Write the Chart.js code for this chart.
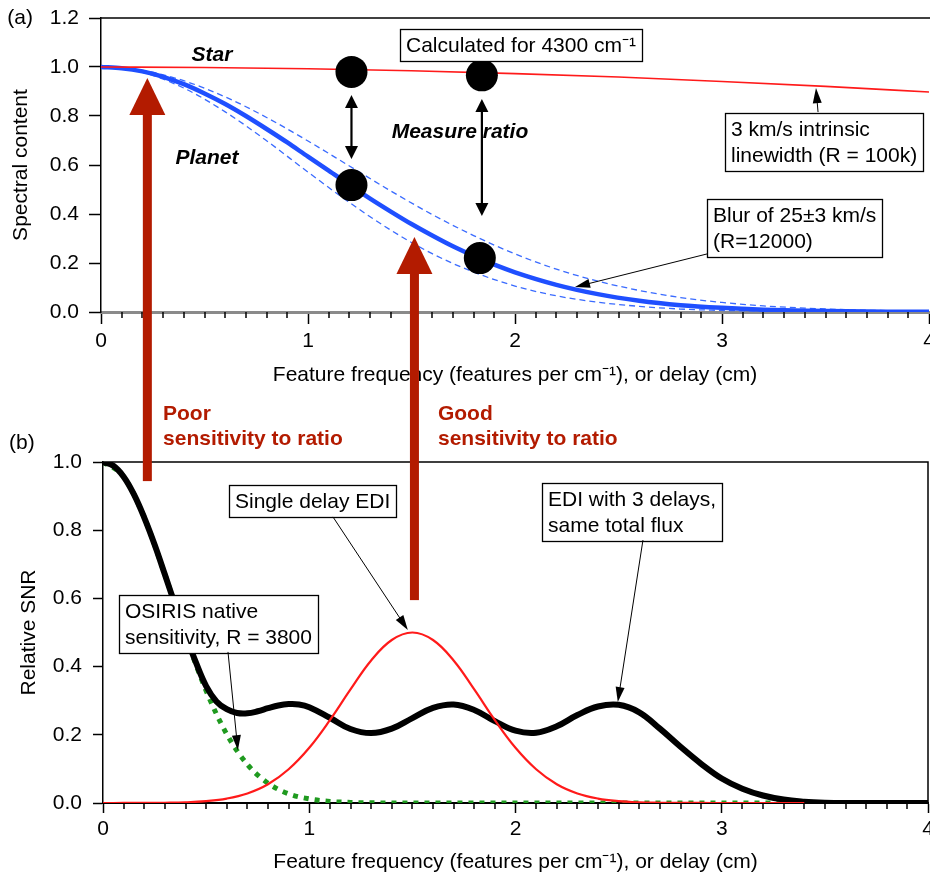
<!DOCTYPE html>
<html><head><meta charset="utf-8">
<script src="https://cdn.jsdelivr.net/npm/chart.js@4/dist/chart.umd.min.js"></script>
<style>
html,body{margin:0;padding:0;background:#fff;overflow:hidden;width:930px;height:880px;}
canvas{position:absolute;left:0;top:0;}
</style></head><body>
<canvas id="cTop" width="960" height="880"></canvas>
<canvas id="cBot" width="960" height="880"></canvas>
<script>
// ---------- Panel (a) data ----------
const starX = [0, 0.5, 1, 1.5, 2, 2.5, 3, 3.5, 4];
const starY = [1, 0.998, 0.993, 0.985, 0.973, 0.959, 0.941, 0.921, 0.898];

const planetX = [0,0.1,0.2,0.3,0.4,0.5,0.6,0.7,0.8,0.9,1.0,1.1,1.2,1.3,1.4,1.5,1.6,1.7,1.8,1.9,2.0,2.2,2.4,2.6,2.8,3.0,3.2,3.4,3.6,3.8,4.0];
const planetY = [1,0.995,0.982,0.960,0.930,0.892,0.849,0.800,0.747,0.692,0.634,0.577,0.519,0.463,0.410,0.359,0.312,0.268,0.229,0.193,0.162,0.111,0.073,0.046,0.028,0.017,0.0095,0.005,0.0027,0.0014,0.0007];

const blurX   = [0,0.2,0.4,0.6,0.8,1.0,1.2,1.4,1.6,1.8,2.0,2.2,2.4,2.6,2.8,3.0,3.2,3.4,3.6,3.8,4.0];
const blurHiY = [1,0.986,0.944,0.878,0.794,0.698,0.596,0.494,0.398,0.312,0.237,0.175,0.126,0.088,0.059,0.039,0.025,0.016,0.0094,0.0055,0.0032];
const blurLoY = [1,0.978,0.914,0.817,0.699,0.571,0.447,0.334,0.238,0.163,0.106,0.066,0.040,0.023,0.012,0.0065,0.0033,0.0016,0.0007,0.0003,0.0001];

const ratioX = [1.21, 1.21, 1.84, 1.83];
const ratioY = [0.98, 0.518, 0.966, 0.22];

// ---------- Panel (b) data ----------
const edi3X = [0,0.05,0.1,0.15,0.2,0.25,0.3,0.35,0.4,0.45,0.5,0.55,0.6,0.65,0.7,0.75,0.8,0.85,0.9,0.95,1.0,1.1,1.2,1.3,1.4,1.5,1.6,1.7,1.8,1.9,2.0,2.1,2.2,2.3,2.4,2.5,2.6,2.7,2.8,2.9,3.0,3.1,3.2,3.3,3.4,3.5,3.6,3.8,4.0];
const edi3Y = [1.0,0.989,0.957,0.905,0.837,0.758,0.670,0.580,0.492,0.413,0.343,0.298,0.275,0.264,0.263,0.269,0.278,0.286,0.290,0.289,0.281,0.250,0.217,0.205,0.218,0.249,0.279,0.289,0.273,0.240,0.212,0.206,0.225,0.258,0.283,0.288,0.266,0.218,0.165,0.115,0.072,0.042,0.022,0.010,0.004,0.001,0,0,0];

const ediX = [0,0.1,0.2,0.3,0.4,0.5,0.6,0.7,0.8,0.9,1.0,1.1,1.2,1.3,1.4,1.5,1.6,1.7,1.8,1.9,2.0,2.1,2.2,2.3,2.4,2.5,2.6,2.7,2.8,2.9,3.0,3.2,3.4];
const ediY = [0,0.0001,0.0004,0.0008,0.002,0.0055,0.013,0.028,0.055,0.099,0.162,0.243,0.333,0.418,0.478,0.5,0.478,0.418,0.333,0.243,0.162,0.099,0.055,0.028,0.013,0.0055,0.002,0.0008,0.0004,0.0001,0,0,0];

const osirisX = [0,0.1,0.2,0.3,0.4,0.5,0.6,0.7,0.8,0.9,1.0,1.1,1.2,1.3,1.4,1.6,2.0,2.5,3.0,3.4];
const osirisY = [1,0.957,0.837,0.670,0.491,0.329,0.202,0.113,0.058,0.027,0.012,0.0046,0.0017,0.0005,0.0002,0,0,0,0,0];

const xTicks = [0, 1, 2, 3, 4];
const yTicksTop = [0, 0.2, 0.4, 0.6, 0.8, 1.0, 1.2];
const yTicksBot = [0, 0.2, 0.4, 0.6, 0.8, 1.0];

// ---------- Annotations (data coordinates) ----------
const FONT = "'Liberation Sans', Arial, Helvetica, sans-serif";
const FS = 21;
const DARKRED = '#b31b00';

const topBoxes = [
  {text:['Calculated for 4300 cm\u207B\u00B9'], x:1.444, y:1.155},
  {text:['3 km/s intrinsic','linewidth (R = 100k)'], x:3.014, y:0.812},
  {text:['Blur of 25\u00B13 km/s','(R=12000)'], x:2.928, y:0.461}
];
const topLabels = [
  {text:'Star', x:0.536, y:1.049, style:'bold italic'},
  {text:'Planet', x:0.512, y:0.629, style:'bold italic'},
  {text:'Measure ratio', x:1.734, y:0.735, style:'bold italic'},
  {text:'(a)', x:-0.391, y:1.2, style:''}
];
const topThinArrows = [
  {from:[3.464,0.816], to:[3.454,0.914]},
  {from:[2.928,0.237], to:[2.29,0.102]}
];
const topDoubleArrows = [
  {x:1.21, y1:0.886, y2:0.624},
  {x:1.84, y1:0.869, y2:0.392}
];

const botBoxes = [
  {text:['Single delay EDI'], x:0.611, y:0.933},
  {text:['EDI with 3 delays,','same total flux'], x:2.128, y:0.938},
  {text:['OSIRIS native','sensitivity, R = 3800'], x:0.078, y:0.610}
];
const botThinArrows = [
  {from:[0.606,0.443], to:[0.654,0.155]},
  {from:[1.115,0.839], to:[1.478,0.507]},
  {from:[2.618,0.771], to:[2.496,0.296]}
];
const botLabels = [
  {text:'(b)', x:-0.393, y:1.056, style:'', color:'#000', align:'center'},
  {text:'Poor', x:0.291, y:1.141, style:'bold', color:DARKRED, align:'left'},
  {text:'sensitivity to ratio', x:0.291, y:1.067, style:'bold', color:DARKRED, align:'left'},
  {text:'Good', x:1.624, y:1.141, style:'bold', color:DARKRED, align:'left'},
  {text:'sensitivity to ratio', x:1.624, y:1.067, style:'bold', color:DARKRED, align:'left'}
];
// big red arrows: tip in panel (a) y, tail in panel (b) y, x in panel (b)
const bigArrows = [
  {x:0.215, tipA:0.955, tailB:0.944},
  {x:1.51, tipA:0.306, tailB:0.595}
];

// ---------- helpers ----------
Chart.defaults.font.family = FONT;
Chart.defaults.font.size = FS;
Chart.defaults.color = '#000';

function pts(xs, ys){ return xs.map((x,i)=>({x:x, y:ys[i]})); }

function arrowHead(ctx, x1,y1,x2,y2,len,hw,color){
  const a = Math.atan2(y2-y1, x2-x1);
  const bx = x2 - len*Math.cos(a), by = y2 - len*Math.sin(a);
  ctx.beginPath();
  ctx.moveTo(x2,y2);
  ctx.lineTo(bx + hw*Math.sin(a), by - hw*Math.cos(a));
  ctx.lineTo(bx - hw*Math.sin(a), by + hw*Math.cos(a));
  ctx.closePath();
  ctx.fillStyle = color; ctx.fill();
}
function thinArrow(chart, a){
  const {ctx, scales:{x,y}} = chart;
  const x1=x.getPixelForValue(a.from[0]), y1=y.getPixelForValue(a.from[1]);
  const x2=x.getPixelForValue(a.to[0]), y2=y.getPixelForValue(a.to[1]);
  ctx.save();
  ctx.strokeStyle='#000'; ctx.lineWidth=1;
  const ang=Math.atan2(y2-y1,x2-x1);
  ctx.beginPath(); ctx.moveTo(x1,y1); ctx.lineTo(x2-10*Math.cos(ang), y2-10*Math.sin(ang)); ctx.stroke();
  arrowHead(ctx,x1,y1,x2,y2,15,4.5,'#000');
  ctx.restore();
}
function doubleArrow(chart, a){
  const {ctx, scales:{x,y}} = chart;
  const px=x.getPixelForValue(a.x), p1=y.getPixelForValue(a.y1), p2=y.getPixelForValue(a.y2);
  ctx.save();
  ctx.strokeStyle='#000'; ctx.lineWidth=2.2;
  ctx.beginPath(); ctx.moveTo(px,p1+10); ctx.lineTo(px,p2-10); ctx.stroke();
  arrowHead(ctx,px,p2,px,p1,13,6.5,'#000');
  arrowHead(ctx,px,p1,px,p2,13,6.5,'#000');
  ctx.restore();
}
function drawBox(chart, n){
  const {ctx, scales:{x,y}} = chart;
  const px=Math.round(x.getPixelForValue(n.x)), py=Math.round(y.getPixelForValue(n.y));
  ctx.save();
  ctx.font = FS+'px '+FONT;
  const lh=26, padX=6, padY=3;
  const w = Math.round(Math.max(...n.text.map(t=>ctx.measureText(t).width)) + 2*padX);
  const h = n.text.length*lh + 2*padY;
  ctx.fillStyle='#fff'; ctx.fillRect(px,py,w,h);
  ctx.strokeStyle='#000'; ctx.lineWidth=1.3; ctx.strokeRect(px+0.5,py+0.5,w,h);
  ctx.fillStyle='#000'; ctx.textAlign='left'; ctx.textBaseline='middle';
  n.text.forEach((t,i)=>ctx.fillText(t, px+padX, py+padY+lh*(i+0.5)+1));
  ctx.restore();
}
function drawLabel(chart, l){
  const {ctx, scales:{x,y}} = chart;
  ctx.save();
  ctx.font = (l.style?l.style+' ':'') + FS+'px '+FONT;
  ctx.fillStyle = l.color || '#000';
  ctx.textAlign = l.align || 'center'; ctx.textBaseline='middle';
  ctx.fillText(l.text, x.getPixelForValue(l.x), y.getPixelForValue(l.y));
  ctx.restore();
}
function minorTicks(chart, len){
  const {ctx, chartArea, scales:{x}} = chart;
  ctx.save(); ctx.strokeStyle='#000'; ctx.lineWidth=1.5;
  for(let i=1;i<40;i++){
    if(i%10===0) continue;
    const px = Math.round(x.getPixelForValue(i/10));
    ctx.beginPath(); ctx.moveTo(px, chartArea.bottom); ctx.lineTo(px, chartArea.bottom+len); ctx.stroke();
  }
  ctx.restore();
}

// ---------- Panel (a) ----------
const topPlugin = {
  id:'topDeco',
  beforeDatasetsDraw(chart){
    const {ctx, chartArea} = chart;
    minorTicks(chart, 6);
    ctx.save(); ctx.strokeStyle='#000'; ctx.lineWidth=1.5;
    ctx.beginPath(); ctx.moveTo(chartArea.left, chartArea.top); ctx.lineTo(chartArea.right+40, chartArea.top); ctx.stroke();
    ctx.restore();
  },
  afterDatasetsDraw(chart){
    topLabels.forEach(l=>drawLabel(chart,l));
    topBoxes.forEach(b=>drawBox(chart,b));
    topThinArrows.forEach(a=>thinArrow(chart,a));
    topDoubleArrows.forEach(a=>doubleArrow(chart,a));
  }
};

const topChart = new Chart(document.getElementById('cTop'), {
  type:'scatter',
  data:{datasets:[
    {data:pts(ratioX,ratioY), showLine:false, pointRadius:16, pointBackgroundColor:'#000', pointBorderWidth:0, order:0},
    {data:pts(starX,starY), showLine:true, borderColor:'#ff1a1a', borderWidth:1.6, pointRadius:0, cubicInterpolationMode:'monotone', order:1},
    {data:pts(planetX,planetY), showLine:true, borderColor:'#1f4fff', borderWidth:4.5, pointRadius:0, cubicInterpolationMode:'monotone', order:2},
    {data:pts(blurX,blurHiY), showLine:true, borderColor:'#3a6bff', borderWidth:1.3, borderDash:[6,4], pointRadius:0, cubicInterpolationMode:'monotone', order:3},
    {data:pts(blurX,blurLoY), showLine:true, borderColor:'#3a6bff', borderWidth:1.3, borderDash:[6,4], pointRadius:0, cubicInterpolationMode:'monotone', order:3}
  ]},
  options:{
    responsive:false, animation:false, events:[],
    layout:{padding:{left:0, top:18, right:31, bottom:488}},
    plugins:{legend:{display:false}, tooltip:{enabled:false}},
    scales:{
      x:{type:'linear', min:0, max:4,
        afterBuildTicks(s){ s.ticks = xTicks.map(v=>({value:v})); },
        ticks:{padding:5, maxRotation:0, autoSkip:false, callback:v=>String(v)},
        grid:{drawOnChartArea:false, drawTicks:true, tickLength:12, tickColor:'#000', tickWidth:1.5},
        border:{display:true, color:'#8a8a8a', width:3},
        title:{display:true, text:'Feature frequency (features per cm\u207B\u00B9), or delay (cm)', padding:{top:0,bottom:4}},
        afterFit(s){ s.height=80; s.paddingLeft=0; s.paddingRight=0; }
      },
      y:{type:'linear', min:0, max:1.2,
        afterBuildTicks(s){ s.ticks = yTicksTop.map(v=>({value:v})); },
        ticks:{padding:10, callback:v=>v.toFixed(1)},
        grid:{drawOnChartArea:false, drawTicks:true, tickLength:12, tickColor:'#000', tickWidth:1.5},
        border:{display:true, color:'#000', width:1.5},
        title:{display:true, text:'Spectral content', padding:{top:9,bottom:0}},
        afterFit(s){ s.width=101; s.paddingTop=0; s.paddingBottom=0; }
      }
    }
  },
  plugins:[topPlugin]
});

// ---------- Panel (b) ----------
const botPlugin = {
  id:'botDeco',
  beforeDatasetsDraw(chart){
    const {ctx, chartArea} = chart;
    minorTicks(chart, 6);
    ctx.save(); ctx.strokeStyle='#000'; ctx.lineWidth=1.5;
    ctx.beginPath();
    ctx.moveTo(chartArea.left, chartArea.top); ctx.lineTo(chartArea.right, chartArea.top);
    ctx.lineTo(chartArea.right, chartArea.bottom);
    ctx.stroke();
    ctx.restore();
  },
  afterDatasetsDraw(chart){
    botBoxes.forEach(b=>drawBox(chart,b));
    botThinArrows.forEach(a=>thinArrow(chart,a));
    botLabels.forEach(l=>drawLabel(chart,l));
  },
  afterDraw(chart){
    const {ctx, scales:{x,y}} = chart;
    const ya = topChart.scales.y;
    ctx.save();
    ctx.fillStyle = DARKRED;
    bigArrows.forEach(a=>{
      const px = x.getPixelForValue(a.x);
      const tip = ya.getPixelForValue(a.tipA);
      const tail = y.getPixelForValue(a.tailB);
      const headLen = 37, headHW = 18, shaftHW = 4.5;
      ctx.fillRect(px-shaftHW, tip+headLen-1, 2*shaftHW, tail-(tip+headLen-1));
      ctx.beginPath();
      ctx.moveTo(px, tip); ctx.lineTo(px+headHW, tip+headLen); ctx.lineTo(px-headHW, tip+headLen);
      ctx.closePath(); ctx.fill();
    });
    ctx.restore();
  }
};

new Chart(document.getElementById('cBot'), {
  type:'scatter',
  data:{datasets:[
    {data:pts(ediX,ediY), showLine:true, borderColor:'#ff1a1a', borderWidth:2.2, pointRadius:0, tension:0.4, order:0},
    {data:pts(edi3X,edi3Y), showLine:true, borderColor:'#000', borderWidth:6, pointRadius:0, tension:0.4, order:1},
    {data:pts(osirisX,osirisY), showLine:true, borderColor:'#1f9a1f', borderWidth:5, borderDash:[5,6], pointRadius:0, cubicInterpolationMode:'monotone', order:2}
  ]},
  options:{
    responsive:false, animation:false, events:[],
    layout:{padding:{left:0, top:462, right:32, bottom:0}},
    plugins:{legend:{display:false}, tooltip:{enabled:false}},
    scales:{
      x:{type:'linear', min:0, max:4,
        afterBuildTicks(s){ s.ticks = xTicks.map(v=>({value:v})); },
        ticks:{padding:4, maxRotation:0, autoSkip:false, callback:v=>String(v)},
        grid:{drawOnChartArea:false, drawTicks:true, tickLength:10, tickColor:'#000', tickWidth:1.5},
        border:{display:true, color:'#000', width:2},
        title:{display:true, text:'Feature frequency (features per cm\u207B\u00B9), or delay (cm)', padding:{top:0,bottom:5}},
        afterFit(s){ s.height=77; s.paddingLeft=0; s.paddingRight=0; }
      },
      y:{type:'linear', min:0, max:1.0,
        afterBuildTicks(s){ s.ticks = yTicksBot.map(v=>({value:v})); },
        ticks:{padding:11, callback:v=>v.toFixed(1)},
        grid:{drawOnChartArea:false, drawTicks:true, tickLength:10, tickColor:'#000', tickWidth:1.5},
        border:{display:true, color:'#000', width:1.5},
        title:{display:true, text:'Relative SNR', padding:{top:17,bottom:0}},
        afterFit(s){ s.width=103; s.paddingTop=0; s.paddingBottom=0; }
      }
    }
  },
  plugins:[botPlugin]
});
</script>
</body></html>
